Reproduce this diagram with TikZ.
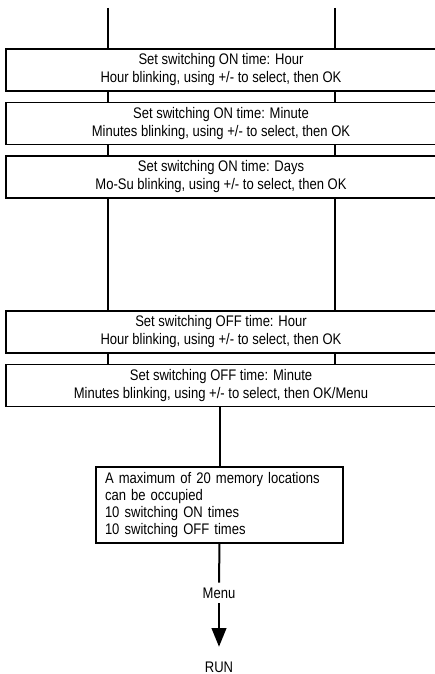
\documentclass[tikz,border=0pt]{standalone}
\usepackage{fontspec}
\setmainfont[FakeStretch=0.85]{Liberation Sans}
\usetikzlibrary{arrows.meta, positioning}

\tikzset{
  stepbox/.style={draw, line width=0.9pt, minimum width=430*0.75pt, minimum height=42*0.75pt,
    inner sep=0pt, align=center, font=\fontsize{11.5pt}{13.5pt}\selectfont},
  notebox/.style={draw, line width=0.9pt, text width=229*0.75pt, inner xsep=9*0.75pt,
    minimum height=76*0.75pt, align=left, font=\fontsize{11.5pt}{12.75pt}\selectfont},
  label/.style={inner sep=3.5pt, font=\fontsize{11.5pt}{12pt}\selectfont},
  flowline/.style={line width=1.5pt},
}

\begin{document}
\begin{tikzpicture}[x=0.75pt, y=-0.75pt]
  \useasboundingbox (0,0) rectangle (435,674);
  % the two incoming lines
  \coordinate (topL) at (108,8);
  \coordinate (topR) at (335,8);

  % switching ON time
  \node[stepbox] (onh) at (221,70) {Set switching ON time: Hour\\Hour blinking, using +/- to select, then OK};
  \node[stepbox] (onm) at (221,123.5) {Set switching ON time: Minute\\Minutes blinking, using +/- to select, then OK};
  \node[stepbox] (ond) at (221,177) {Set switching ON time: Days\\Mo-Su blinking, using +/- to select, then OK};

  % switching OFF time
  \node[stepbox] (offh) at (221,332) {Set switching OFF time: Hour\\Hour blinking, using +/- to select, then OK};
  \node[stepbox] (offm) at (221,385.5) {Set switching OFF time: Minute\\Minutes blinking, using +/- to select, then OK/Menu};

  \node[notebox] (note) at (219.5,505) {A maximum of 20 memory locations\\can be occupied\\10 switching ON times\\10 switching OFF times};
  \node[label] (menu) at (219,593) {Menu};
  \node[label] (run) at (219,667) {RUN};

  % connectors
  \draw[flowline] (topL) -- (topL |- onh.north);
  \draw[flowline] (topR) -- (topR |- onh.north);
  \foreach \a/\b in {onh/onm, ond/offh, onm/ond, offh/offm} {
    \draw[flowline] (\a.south -| topL) -- (\b.north -| topL);
    \draw[flowline] (\a.south -| topR) -- (\b.north -| topR);
  }
  \draw[flowline] (offm.south -| note.north) -- (note.north);
  \draw[flowline] (note.south) -- (menu.north);
  \draw[flowline, -{Triangle[length=14pt, width=11pt]}, shorten >=7.5pt] (menu.south) -- (run.north);
\end{tikzpicture}
\end{document}
